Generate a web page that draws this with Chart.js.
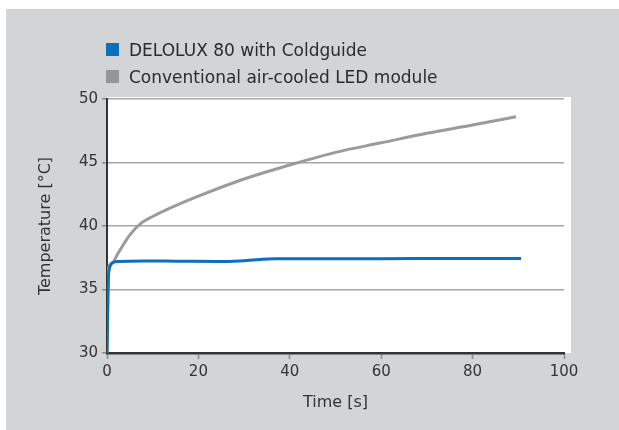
<!DOCTYPE html>
<html>
<head>
<meta charset="utf-8">
<script src="https://cdn.jsdelivr.net/npm/chart.js@4.4.0/dist/chart.umd.min.js"></script>
<style>
  body { margin: 0; background: #ffffff; }
  #caixa {
    position: absolute; left: 6px; top: 9px;
    width: 613px; height: 421px;
    background: #d3d4d6;
    font-family: "DejaVu Sans", sans-serif;
  }
  #grafico { position: absolute; left: 0; top: 0; }
  .quadrado { position: absolute; left: 100px; width: 13px; height: 13px; }
  .texto { position: absolute; left: 123px; font-size: 17px; line-height: 20px; color: #2b2b2b; white-space: nowrap; }
</style>
</head>
<body>
<div id="caixa">
  <canvas id="grafico" width="613" height="421"></canvas>
  <div class="quadrado" style="top:34px; background:#0a6fbd"></div>
  <div class="texto" style="top:31px">DELOLUX 80 with Coldguide</div>
  <div class="quadrado" style="top:61px; background:#939598"></div>
  <div class="texto" style="top:58px">Conventional air-cooled LED module</div>
</div>
<script>
// Dados (tempo em s, temperatura em °C)
const tempoAzul = [0, 0.3, 0.6, 1.2, 2.5, 8, 15, 25, 30, 37, 45, 60, 75, 90.6];
const tempAzul  = [30, 35.8, 36.75, 37.1, 37.2, 37.25, 37.23, 37.2, 37.27, 37.42, 37.43, 37.42, 37.45, 37.45];

const tempoCinza = [0, 0.3, 1, 2.5, 5, 7.6, 10, 15, 20, 30, 40, 50, 60, 70, 80, 89.5];
const tempCinza  = [30, 36.6, 37.06, 37.9, 39.3, 40.26, 40.75, 41.6, 42.35, 43.7, 44.8, 45.8, 46.55, 47.3, 47.95, 48.6];

const ticksX = [0, 20, 40, 60, 80, 100];
const ticksY = [30, 35, 40, 45, 50];

const nomes = ['DELOLUX 80 with Coldguide', 'Conventional air-cooled LED module'];

// Juntar x e y em pontos
function pontos(xs, ys) {
    return xs.map((x, i) => ({ x: x, y: ys[i] }));
}

// Fundo branco atrás da área do gráfico
const fundoBranco = {
    id: 'fundoBranco',
    beforeDraw(chart) {
        const { ctx, chartArea } = chart;
        ctx.save();
        ctx.fillStyle = '#ffffff';
        ctx.fillRect(chartArea.left, chartArea.top - 2, chartArea.right - chartArea.left + 7, chartArea.bottom - chartArea.top + 2);
        ctx.restore();
    }
};

const fonte = '"DejaVu Sans", sans-serif';

const ctx = document.getElementById('grafico').getContext('2d');
new Chart(ctx, {
    type: 'line',
    data: {
        datasets: [{
            label: nomes[0],
            data: pontos(tempoAzul, tempAzul),
            borderColor: '#0a6fbd',
            borderWidth: 3,
            pointRadius: 0,
            cubicInterpolationMode: 'monotone'
        }, {
            label: nomes[1],
            data: pontos(tempoCinza, tempCinza),
            borderColor: '#9a9b9f',
            borderWidth: 3,
            pointRadius: 0,
            cubicInterpolationMode: 'monotone'
        }]
    },
    options: {
        responsive: false,
        animation: false,
        devicePixelRatio: 1,
        layout: { padding: { top: 90, right: 55, left: 0, bottom: 0 } },
        plugins: {
            legend: { display: false },
            tooltip: { enabled: false }
        },
        scales: {
            x: {
                type: 'linear',
                min: ticksX[0],
                max: ticksX[ticksX.length - 1],
                afterBuildTicks: (s) => { s.ticks = ticksX.map(v => ({ value: v })); },
                afterFit: (s) => { s.height = 77; },
                ticks: { color: '#333333', font: { family: fonte, size: 15 }, padding: 4 },
                grid: { drawOnChartArea: false, tickLength: 6, tickColor: '#8a8a8a', tickWidth: 1.5 },
                border: { color: '#333333', width: 2.5 },
                title: { display: true, text: 'Time [s]', color: '#333333', font: { family: fonte, size: 16 }, padding: { bottom: 18 } }
            },
            y: {
                min: ticksY[0],
                max: ticksY[ticksY.length - 1],
                afterBuildTicks: (s) => { s.ticks = ticksY.map(v => ({ value: v })); },
                afterFit: (s) => { s.width = 101; },
                ticks: { color: '#333333', font: { family: fonte, size: 15 }, padding: 4 },
                grid: { color: '#a6a6a6', lineWidth: 1.5, tickLength: 5, tickColor: '#8a8a8a' },
                border: { color: '#333333', width: 2 },
                title: { display: true, text: 'Temperature [°C]', color: '#333333', font: { family: fonte, size: 16 }, padding: { top: 30 } }
            }
        }
    },
    plugins: [fundoBranco]
});
</script>
</body>
</html>
